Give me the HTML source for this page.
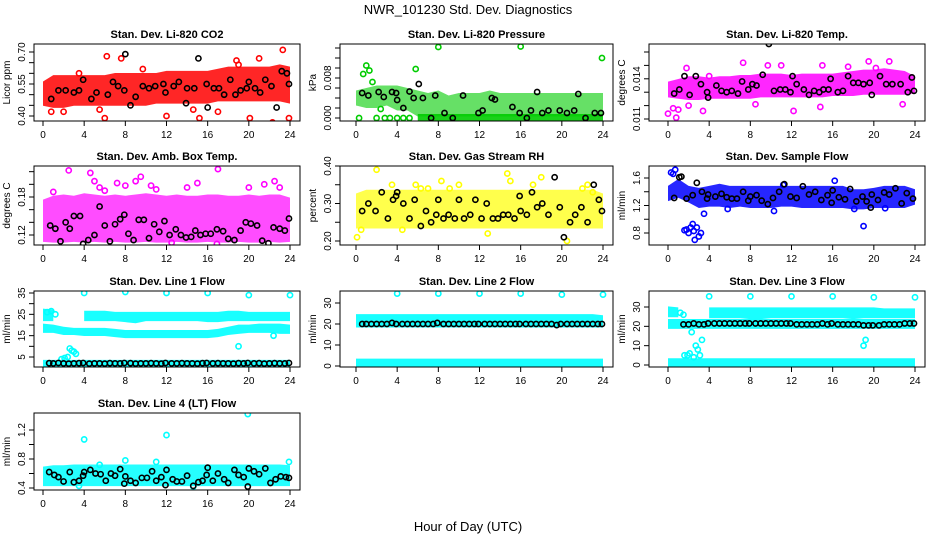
<!DOCTYPE html>
<html><head><meta charset="utf-8"><style>
html,body{margin:0;padding:0;background:#fff;}
svg{display:block;font-family:"Liberation Sans",sans-serif;}
</style></head><body>
<svg id="chart" width="936" height="540" viewBox="0 0 936 540" xmlns="http://www.w3.org/2000/svg">
<rect x="0" y="0" width="936" height="540" fill="#fff"/>
<text x="468" y="14" text-anchor="middle" font-size="13">NWR_101230  Std. Dev. Diagnostics</text>
<text x="468" y="531" text-anchor="middle" font-size="13">Hour of Day (UTC)</text>
</svg>
<script>
// ---------- data ----------
const bandHours = [0,1,2,3,4,5,6,7,8,9,10,11,12,13,14,15,16,17,18,19,20,21,22,23,24];
const xTicks = [0,4,8,12,16,20,24];

// CO2
const co2Lo = [0.46,0.45,0.45,0.46,0.46,0.46,0.46,0.46,0.46,0.46,0.46,0.47,0.47,0.47,0.47,0.47,0.47,0.48,0.48,0.48,0.48,0.48,0.48,0.48,0.47];
const co2Hi = [0.55,0.58,0.58,0.58,0.58,0.58,0.58,0.59,0.59,0.59,0.59,0.59,0.60,0.60,0.60,0.60,0.60,0.61,0.62,0.62,0.62,0.62,0.62,0.63,0.62];
const co2OutX = [6.2,7.6,2.0,3.5,15.2,16.0,18.8,19.0,20.1,21.0,22.3,23.3,23.9,0.8,6.0,12.0,17.0,9.7,5.5,14.6];
const co2OutY = [0.68,0.67,0.42,0.60,0.39,0.36,0.66,0.64,0.39,0.67,0.37,0.71,0.39,0.42,0.39,0.40,0.42,0.62,0.43,0.43];
const co2BlkX = [0.8,1.5,2.2,3.0,3.5,3.9,4.7,5.2,6.3,6.8,7.3,7.9,8.0,8.5,9.0,9.7,10.3,10.9,11.7,11.9,12.7,13.2,13.9,14.0,14.7,15.1,15.9,16.0,16.6,17.1,17.6,18.2,18.7,19.2,19.8,20.0,20.6,21.1,21.6,22.2,22.7,23.2,23.7,23.9];
const co2BlkY = [0.48,0.52,0.52,0.51,0.52,0.57,0.48,0.51,0.50,0.56,0.54,0.52,0.69,0.45,0.49,0.54,0.53,0.54,0.55,0.51,0.54,0.56,0.46,0.53,0.53,0.67,0.55,0.44,0.53,0.53,0.50,0.57,0.50,0.52,0.53,0.56,0.53,0.51,0.57,0.54,0.44,0.61,0.60,0.55];
const co2Ticks = [0.40,0.45,0.50,0.55,0.60,0.65,0.70];
const co2Labels = ["0.40","0.55","0.70"];
const co2LabelVals = [0.40,0.55,0.70];

// Pressure
const prsLo = [0.003,0.0025,0.0025,0.003,0.002,0.002,0.0008,0.0008,0.0008,0.0008,0.0008,0.0008,0.0008,0.0008,0.0008,0.0008,0.0008,0.0008,0.0008,0.0008,0.0008,0.0008,0.0008,0.0008,0.0008];
const prsHi = [0.005,0.0055,0.006,0.006,0.006,0.0055,0.005,0.0045,0.005,0.004,0.0045,0.0045,0.0045,0.005,0.0045,0.0045,0.0045,0.0045,0.0045,0.0045,0.0045,0.0045,0.0045,0.0045,0.0045];
const prsBaseLo = [null,null,null,null,null,null,-0.0003,-0.0003,-0.0003,-0.0003,-0.0003,-0.0003,-0.0003,-0.0003,-0.0003,-0.0003,-0.0003,-0.0003,-0.0003,-0.0003,-0.0003,-0.0003,-0.0003,-0.0003,-0.0003];
const prsBaseHi = [null,null,null,null,null,null,0.0003,0.0003,0.0003,0.0003,0.0003,0.0003,0.0003,0.0003,0.0003,0.0003,0.0003,0.0003,0.0003,0.0003,0.0003,0.0003,0.0003,0.0003,0.0003];
const prsOutX = [0.7,1.0,1.3,5.8,8.0,16.0,23.9,0.3,2.0,2.8,3.3,4.0,4.6,5.2,1.6,2.4];
const prsOutY = [0.0088,0.0105,0.0095,0.0098,0.0142,0.0143,0.0120,0.0,0.0,0.0,0.0,0.0,0.0,0.0,0.0072,0.0018];
const prsBlkX = [0.6,1.2,2.2,2.7,3.5,3.9,4.0,4.6,5.2,5.6,6.1,6.5,7.3,7.7,8.6,9.4,10.4,11.9,12.3,13.2,13.5,15.2,15.9,16.6,17.0,17.6,18.1,18.7,19.8,20.5,21.2,21.6,22.3,23.2,23.8];
const prsBlkY = [0.0050,0.0045,0.0052,0.0042,0.0052,0.0050,0.0036,0.0020,0.0053,0.0040,0.0068,0.0040,0.0000,0.0045,0.0010,0.0000,0.0045,0.0010,0.0015,0.0040,0.0037,0.0022,0.0010,0.0000,0.0015,0.0052,0.0010,0.0015,0.0015,0.0010,0.0015,0.0048,0.0000,0.0010,0.0010];
const prsTicks = [0,0.002,0.004,0.006,0.008,0.010,0.012,0.014];
const prsLabels = ["0.000","0.008"];
const prsLabelVals = [0,0.008];

// Li-820 Temp
const tmpLo = [0.0128,0.0127,0.0126,0.0126,0.0127,0.0127,0.0127,0.0127,0.0127,0.0128,0.0128,0.0128,0.0128,0.0128,0.0128,0.0128,0.0129,0.0129,0.0129,0.0130,0.0130,0.0130,0.0130,0.0130,0.0131];
const tmpHi = [0.0136,0.0138,0.0140,0.0140,0.0139,0.0140,0.0140,0.0141,0.0141,0.0142,0.0142,0.0142,0.0141,0.0142,0.0142,0.0142,0.0142,0.0143,0.0144,0.0145,0.0145,0.0146,0.0145,0.0144,0.0140];
const tmpOutX = [0.0,0.5,0.8,1.0,2.0,3.4,7.3,8.5,9.7,11.0,12.2,14.8,17.5,19.5,21.5,22.8,1.8,4.0,15.0,20.2];
const tmpOutY = [0.0114,0.0118,0.0111,0.0117,0.0120,0.0116,0.0152,0.0121,0.0150,0.0150,0.0116,0.0119,0.0149,0.0153,0.0153,0.0121,0.0148,0.0142,0.0150,0.0148];
const tmpBlkX = [0.6,1.1,1.6,2.1,2.7,3.2,3.8,3.9,4.7,5.2,5.7,6.2,6.8,7.2,7.8,8.2,8.6,9.2,9.8,10.3,10.9,11.4,11.9,12.1,12.5,13.2,13.7,14.2,14.7,15.1,15.6,15.8,16.5,17.0,17.5,18.0,18.5,19.0,19.6,19.8,20.6,21.2,21.8,22.6,23.3,23.7,23.9];
const tmpBlkY = [0.0129,0.0132,0.0142,0.0128,0.0142,0.0136,0.0130,0.0126,0.0135,0.0131,0.0130,0.0131,0.0129,0.0138,0.0132,0.0136,0.0135,0.0143,0.0166,0.0131,0.0132,0.0132,0.0130,0.0142,0.0136,0.0132,0.0128,0.0131,0.0130,0.0132,0.0132,0.0140,0.0130,0.0131,0.0142,0.0137,0.0137,0.0136,0.0137,0.0128,0.0142,0.0136,0.0136,0.0136,0.0130,0.0141,0.0131];
const tmpTicks = [0.011,0.012,0.013,0.014,0.015,0.016];
const tmpLabels = ["0.011","0.014"];
const tmpLabelVals = [0.011,0.014];

// Amb box temp
const boxLo = [0.113,0.112,0.112,0.113,0.112,0.113,0.112,0.113,0.112,0.112,0.113,0.112,0.112,0.113,0.112,0.112,0.113,0.112,0.112,0.113,0.112,0.112,0.113,0.112,0.113];
const boxHi = [0.172,0.178,0.180,0.178,0.182,0.180,0.178,0.180,0.178,0.180,0.182,0.180,0.178,0.180,0.178,0.178,0.180,0.180,0.178,0.178,0.180,0.178,0.180,0.180,0.175];
const boxOutX = [2.5,4.6,5.0,5.5,6.0,7.2,8.0,9.0,9.5,10.5,11.0,14.0,15.0,17.0,20.0,21.5,22.5,23.0,1.0,12.5,16.9];
const boxOutY = [0.222,0.218,0.205,0.195,0.190,0.202,0.198,0.205,0.212,0.198,0.192,0.195,0.202,0.224,0.195,0.200,0.205,0.195,0.188,0.108,0.106];
const boxBlkX = [0.7,1.2,1.7,2.2,2.6,3.0,3.6,3.9,4.4,5.0,5.5,6.0,6.5,7.0,7.5,7.9,8.3,8.8,9.3,9.8,10.3,10.8,11.3,11.8,12.3,12.9,13.4,13.9,14.4,14.8,15.3,15.8,16.3,16.9,17.5,18.0,18.6,19.2,19.7,20.2,20.8,21.3,21.9,22.4,23.0,23.5,23.9];
const boxBlkY = [0.135,0.130,0.110,0.140,0.130,0.150,0.150,0.106,0.112,0.120,0.165,0.135,0.110,0.137,0.145,0.152,0.122,0.112,0.144,0.144,0.115,0.137,0.125,0.142,0.120,0.129,0.120,0.116,0.117,0.127,0.120,0.122,0.122,0.129,0.126,0.114,0.112,0.127,0.140,0.138,0.135,0.111,0.107,0.132,0.130,0.127,0.146];
const boxTicks = [0.12,0.14,0.16,0.18,0.20,0.22];
const boxLabels = ["0.12","0.18"];
const boxLabelVals = [0.12,0.18];

// Gas stream RH
const rhLo = [0.24,0.24,0.24,0.24,0.24,0.24,0.24,0.24,0.24,0.24,0.24,0.24,0.24,0.24,0.24,0.24,0.24,0.24,0.24,0.24,0.24,0.24,0.24,0.24,0.24];
const rhHi = [0.32,0.33,0.33,0.33,0.33,0.33,0.33,0.33,0.33,0.33,0.33,0.33,0.33,0.33,0.33,0.33,0.33,0.33,0.33,0.33,0.33,0.33,0.33,0.33,0.32];
const rhOutX = [0.1,0.5,2.0,3.5,4.5,5.8,6.3,8.3,9.1,10.0,12.8,14.7,15.0,17.2,18.0,20.5,22.0,22.5,23.0,7.0];
const rhOutY = [0.21,0.23,0.39,0.35,0.23,0.35,0.34,0.36,0.34,0.35,0.22,0.38,0.36,0.35,0.37,0.20,0.34,0.35,0.33,0.34];
const rhBlkX = [0.6,1.2,1.9,2.5,3.1,3.6,3.9,4.0,4.6,5.2,5.7,6.3,6.8,7.3,7.8,8.0,8.5,9.0,9.6,10.0,10.5,11.1,11.6,12.2,12.7,13.3,13.8,14.3,14.8,15.4,15.9,16.0,16.6,17.1,17.6,18.1,18.7,19.3,19.8,20.2,20.8,21.3,21.9,22.5,23.1,23.6,23.9];
const rhBlkY = [0.28,0.30,0.28,0.33,0.26,0.31,0.32,0.33,0.30,0.26,0.31,0.24,0.28,0.25,0.27,0.31,0.26,0.27,0.26,0.31,0.26,0.27,0.31,0.26,0.30,0.26,0.26,0.27,0.27,0.26,0.32,0.28,0.27,0.33,0.29,0.30,0.27,0.37,0.29,0.21,0.25,0.27,0.29,0.25,0.35,0.31,0.28];
const rhTicks = [0.20,0.25,0.30,0.35,0.40];
const rhLabels = ["0.20","0.30","0.40"];
const rhLabelVals = [0.20,0.30,0.40];

// Sample flow
const sfLo = [1.30,1.35,1.28,1.20,1.22,1.22,1.20,1.22,1.20,1.20,1.20,1.22,1.22,1.20,1.20,1.20,1.20,1.20,1.18,1.18,1.20,1.20,1.20,1.20,1.25];
const sfHi = [1.45,1.55,1.45,1.42,1.45,1.48,1.45,1.45,1.45,1.45,1.45,1.45,1.45,1.45,1.45,1.45,1.45,1.45,1.40,1.40,1.42,1.45,1.45,1.45,1.40];
const sfOutX = [0.3,0.5,0.7,1.6,1.8,2.0,2.2,2.4,2.5,2.6,2.8,3.0,3.2,3.5,5.8,10.3,11.2,16.2,18.1,19.0,21.1];
const sfOutY = [1.68,1.66,1.72,0.84,0.85,0.80,0.88,0.93,0.83,0.70,0.88,0.75,0.80,1.08,1.15,1.12,1.50,1.56,1.15,0.90,1.16];
const sfBlkX = [0.6,1.1,1.3,1.8,2.4,2.8,3.3,3.8,3.9,4.6,5.2,5.7,6.2,6.7,7.3,7.8,8.0,8.6,9.1,9.7,10.2,10.8,11.3,11.9,12.5,13.1,13.7,14.3,14.9,15.5,15.9,16.0,16.6,17.2,17.7,18.3,18.9,19.3,19.7,19.8,20.4,21.0,21.5,22.1,22.7,23.2,23.8];
const sfBlkY = [1.31,1.61,1.62,1.30,1.35,1.53,1.40,1.30,1.36,1.33,1.37,1.32,1.30,1.30,1.40,1.27,1.33,1.35,1.27,1.22,1.31,1.40,1.51,1.33,1.31,1.48,1.36,1.40,1.28,1.35,1.24,1.42,1.32,1.29,1.44,1.26,1.33,1.26,1.17,1.36,1.28,1.39,1.36,1.45,1.23,1.38,1.30];
const sfTicks = [0.8,1.0,1.2,1.4,1.6];
const sfLabels = ["0.8","1.2","1.6"];
const sfLabelVals = [0.8,1.2,1.6];

// Line 1 flow
const l1UpLo = [23,23,null,null,23,23,23,23,22.5,22,23,23,23,23,23,23,22.5,22.5,23,23,23,23,23,23,23];
const l1UpHi = [26.5,26,null,null,25.5,25.5,25.5,25,25,25,25,25,25,25,25,25,25,25,25.5,25.5,25,25,25,25,25];
const l1MidLo = [17.5,17.5,16.5,16.5,16,16,16,15.5,15,15,15,15,15,15,15,15,15,15.5,16.5,17,17.5,17.5,17.5,17,17];
const l1MidHi = [19.5,19,18,17.5,17.5,17.5,17.5,17,16.5,16.5,16.5,16.5,16.5,16.5,16.5,16.5,16.5,17,18,19,19,19.5,19.5,19.5,19];
const l1BaseLo = [0.8,0.8,0.8,0.8,0.8,0.8,0.8,0.8,0.8,0.8,0.8,0.8,0.8,0.8,0.8,0.8,0.8,0.8,0.8,0.8,0.8,0.8,0.8,0.8,0.8];
const l1BaseHi = [2.5,2.5,2.5,2.5,2.5,2.5,2.5,2.5,2.5,2.5,2.5,2.5,2.5,2.5,2.5,2.5,2.5,2.5,2.5,2.5,2.5,2.5,2.5,2.5,2.5];
const l1OutX = [4.0,8.0,12.0,16.0,20.0,24.0,1.8,2.1,2.4,2.6,2.8,3.0,3.2,19.0,22.4,0.4,0.8,1.2];
const l1OutY = [35,35.5,35,35,34,34,4,4.5,5,9,8,7.5,6.5,10,15,26,26.5,25];
const l1BlkX = [0.6,1.0,1.5,2.0,2.5,3.0,3.5,3.9,4.5,5.0,5.5,6.0,6.5,7.0,7.5,7.9,8.5,9.0,9.5,10.0,10.5,11.0,11.5,11.9,12.5,13.0,13.5,14.0,14.5,15.0,15.5,15.9,16.5,17.0,17.5,18.0,18.5,19.0,19.5,19.9,20.5,21.0,21.5,22.0,22.5,23.0,23.5,23.9];
const l1BlkY = [2.1,2.0,2.2,2.0,1.9,2.0,2.1,2.2,1.9,2.0,2.0,1.9,2.1,2.0,2.0,2.2,2.1,1.9,2.0,2.0,2.1,2.0,1.9,2.2,2.0,2.0,2.1,2.0,2.0,1.9,2.1,2.2,2.0,2.1,2.0,2.0,1.9,2.1,2.0,2.2,2.0,2.1,1.9,2.0,2.1,2.0,2.0,2.2];
const l1Ticks = [5,10,15,20,25,30,35];
const l1Labels = ["5","15","25","35"];
const l1LabelVals = [5,15,25,35];

// Line 2 flow
const l2UpLo = [19.5,19.5,19.5,19.5,19.5,19.5,19.5,19.5,19.5,19.5,19.5,19.5,19.5,19.5,19.5,19.5,19.5,19.5,19.5,19.5,19.5,19.5,19.5,19.5,19.5];
const l2UpHi = [23.5,23.5,23.5,23.5,23.5,23.5,23.5,23.5,23.5,23.5,23.5,23.5,23.5,23.5,23.5,23.5,23.5,23.5,23.5,23.5,23.5,23.5,23.5,23.5,23];
const l2BaseLo = [0.3,0.3,0.3,0.3,0.3,0.3,0.3,0.3,0.3,0.3,0.3,0.3,0.3,0.3,0.3,0.3,0.3,0.3,0.3,0.3,0.3,0.3,0.3,0.3,0.3];
const l2BaseHi = [2.3,2.3,2.3,2.3,2.3,2.3,2.3,2.3,2.3,2.3,2.3,2.3,2.3,2.3,2.3,2.3,2.3,2.3,2.3,2.3,2.3,2.3,2.3,2.3,2.3];
const l2OutX = [4,8,12,16,20,24];
const l2OutY = [34.5,34.5,34.5,34.5,34,34];
const l2BlkX = [0.6,1.0,1.5,2.0,2.5,3.0,3.5,3.9,4.5,5.0,5.5,6.0,6.5,7.0,7.5,7.9,8.5,9.0,9.5,10.0,10.5,11.0,11.5,11.9,12.5,13.0,13.5,14.0,14.5,15.0,15.5,15.9,16.5,17.0,17.5,18.0,18.5,19.0,19.5,19.9,20.5,21.0,21.5,22.0,22.5,23.0,23.5,23.9];
const l2BlkY = [20,20,20,20,20,20,20.5,20,20,20,20,20,20,20,20,20.5,20,20,20,20,20,20,20,20,20,20,20,20,20,20,20,20,20,20,20,20,20,20,19.5,20,20,20,20,20,20,20,20,20];
const l2Ticks = [0,10,20,30];
const l2Labels = ["0","10","20","30"];
const l2LabelVals = [0,10,20,30];

// Line 3 flow
const l3UpLo = [26,26,null,null,25.5,25.5,25.5,25.5,25,25,25.5,25.5,25.5,25.5,25.5,25.5,25.5,25.5,25,25.5,25.5,25.5,25.5,25.5,25.5];
const l3UpHi = [29,28.5,null,null,28.5,28.5,28.5,28.5,28.5,28.5,28.5,28.5,28.5,28.5,28.5,28.5,28.5,28.5,28.5,28.5,28.5,28,28,28,28];
const l3MidLo = [20,20,20,20,20,20,20,20,20,20,20,20,20,20,20,20,20,20,20,20,20,20,20,20,20];
const l3MidHi = [22.5,22.5,22.5,22.5,22.5,22.5,22.5,22.5,22.5,22.5,22.5,22.5,22.5,22.5,22.5,22.5,22.5,22.5,22.5,22.5,22.5,22.5,22.5,22.5,22.5];
const l3BaseLo = [0.3,0.3,0.3,0.3,0.3,0.3,0.3,0.3,0.3,0.3,0.3,0.3,0.3,0.3,0.3,0.3,0.3,0.3,0.3,0.3,0.3,0.3,0.3,0.3,0.3];
const l3BaseHi = [2.2,2.2,2.2,2.2,2.2,2.2,2.2,2.2,2.2,2.2,2.2,2.2,2.2,2.2,2.2,2.2,2.2,2.2,2.2,2.2,2.2,2.2,2.2,2.2,2.2];
const l3OutX = [4,8,12,16,20,24,1.6,1.9,2.1,2.3,2.5,2.7,2.9,3.1,3.3,19.0,19.2,1.5,1.2];
const l3OutY = [35.5,35.5,35.5,35.5,35,35,5,5,6,17,4,10,8,5,13,10,13,26,27];
const l3BlkX = [1.5,2.0,2.5,3.0,3.5,3.9,4.5,5.0,5.5,6.0,6.5,7.0,7.5,7.9,8.5,9.0,9.5,10.0,10.5,11.0,11.5,11.9,12.5,13.0,13.5,14.0,14.5,15.0,15.5,15.9,16.5,17.0,17.5,18.0,18.5,19.0,19.5,19.9,20.5,21.0,21.5,22.0,22.5,23.0,23.5,23.9];
const l3BlkY = [21,21,21.5,21,21,21.5,21.5,21.5,21.5,21.5,21.5,21.5,21.5,21.5,21.5,21.5,21.5,21.5,21.5,21.5,21.5,21.5,21,21,21,21,21,21.5,21,21.5,21,21,21,21,21,20.5,20.5,20.5,20.5,21,21,21,21,21.5,21.5,21.5];
const l3Ticks = [0,10,20,30];
const l3Labels = ["0","10","20","30"];
const l3LabelVals = [0,10,20,30];

// Line 4 flow
const l4Lo = [0.46,0.46,0.46,0.46,0.46,0.46,0.46,0.46,0.46,0.46,0.46,0.46,0.46,0.46,0.46,0.46,0.46,0.46,0.46,0.46,0.46,0.46,0.46,0.46,0.46];
const l4Hi = [0.66,0.68,0.68,0.69,0.69,0.69,0.69,0.69,0.69,0.69,0.69,0.69,0.69,0.69,0.69,0.69,0.69,0.69,0.69,0.69,0.69,0.69,0.69,0.69,0.68];
const l4OutX = [4.0,12.0,19.9,8.0,11.0,23.9,14.6,3.5,5.5];
const l4OutY = [1.07,1.13,1.42,0.78,0.76,0.76,0.42,0.43,0.72];
const l4BlkX = [0.6,1.1,1.5,2.0,2.6,3.0,3.5,3.9,4.0,4.6,5.1,5.6,6.1,6.6,7.0,7.5,7.9,8.0,8.5,9.0,9.6,10.1,10.6,11.0,11.5,11.9,12.0,12.6,13.0,13.5,14.0,14.6,15.1,15.5,15.9,16.0,16.5,17.0,17.6,18.0,18.6,19.0,19.5,19.9,20.0,20.5,21.0,21.6,22.1,22.6,23.1,23.6,23.9];
const l4BlkY = [0.62,0.58,0.55,0.49,0.62,0.48,0.50,0.57,0.62,0.65,0.60,0.59,0.50,0.60,0.57,0.66,0.46,0.56,0.50,0.47,0.54,0.54,0.63,0.50,0.55,0.44,0.65,0.52,0.49,0.49,0.57,0.43,0.48,0.50,0.58,0.68,0.50,0.60,0.52,0.47,0.65,0.58,0.55,0.42,0.67,0.63,0.59,0.67,0.47,0.52,0.56,0.55,0.54];
const l4Ticks = [0.4,0.6,0.8,1.0,1.2];
const l4Labels = ["0.4","0.8","1.2"];
const l4LabelVals = [0.4,0.8,1.2];

// ---------- layout (pixels, not data) ----------
const colFrames = [[34,300,43,290],[340,613,356,603],[649,925,668,915]];
const rowFrames = [[44,121],[166,245],[291,367],[413,490]];

const panels = [
 {id:"co2",title:"Stan. Dev. Li-820 CO2",ylab:"Licor ppm",col:0,row:0,color:"#ff0000",cal:[0.40,116,0.70,52],
  bands:[[co2Lo,co2Hi,0.85]],outX:co2OutX,outY:co2OutY,blkX:co2BlkX,blkY:co2BlkY,ticks:co2Ticks,labels:co2Labels,labelVals:co2LabelVals},
 {id:"pressure",title:"Stan. Dev. Li-820 Pressure",ylab:"kPa",col:1,row:0,color:"#00cc00",cal:[0,118,0.014,48],
  bands:[[prsLo,prsHi,0.6],[prsBaseLo,prsBaseHi,0.9]],outX:prsOutX,outY:prsOutY,blkX:prsBlkX,blkY:prsBlkY,ticks:prsTicks,labels:prsLabels,labelVals:prsLabelVals},
 {id:"li820-temp",title:"Stan. Dev. Li-820 Temp.",ylab:"degrees C",col:2,row:0,color:"#ff00ff",cal:[0.011,119,0.016,52],
  bands:[[tmpLo,tmpHi,0.85]],outX:tmpOutX,outY:tmpOutY,blkX:tmpBlkX,blkY:tmpBlkY,ticks:tmpTicks,labels:tmpLabels,labelVals:tmpLabelVals},
 {id:"box-temp",title:"Stan. Dev. Amb. Box Temp.",ylab:"degrees C",col:0,row:1,color:"#ff00ff",cal:[0.12,235,0.18,197],
  bands:[[boxLo,boxHi,0.7]],outX:boxOutX,outY:boxOutY,blkX:boxBlkX,blkY:boxBlkY,ticks:boxTicks,labels:boxLabels,labelVals:boxLabelVals},
 {id:"rh",title:"Stan. Dev. Gas Stream RH",ylab:"percent",col:1,row:1,color:"#ffff00",cal:[0.20,241,0.40,166],
  bands:[[rhLo,rhHi,0.7]],outX:rhOutX,outY:rhOutY,blkX:rhBlkX,blkY:rhBlkY,ticks:rhTicks,labels:rhLabels,labelVals:rhLabelVals},
 {id:"sample-flow",title:"Stan. Dev. Sample Flow",ylab:"ml/min",col:2,row:1,color:"#0000ff",cal:[0.8,233,1.6,178],
  bands:[[sfLo,sfHi,0.85]],outX:sfOutX,outY:sfOutY,blkX:sfBlkX,blkY:sfBlkY,ticks:sfTicks,labels:sfLabels,labelVals:sfLabelVals},
 {id:"line1-flow",title:"Stan. Dev. Line 1 Flow",ylab:"ml/min",col:0,row:2,color:"#00ffff",cal:[5,357,35,293],
  bands:[[l1UpLo,l1UpHi,0.9],[l1MidLo,l1MidHi,0.9],[l1BaseLo,l1BaseHi,0.9]],outX:l1OutX,outY:l1OutY,blkX:l1BlkX,blkY:l1BlkY,ticks:l1Ticks,labels:l1Labels,labelVals:l1LabelVals},
 {id:"line2-flow",title:"Stan. Dev. Line 2 Flow",ylab:"ml/min",col:1,row:2,color:"#00ffff",cal:[0,366,30,303],
  bands:[[l2UpLo,l2UpHi,0.9],[l2BaseLo,l2BaseHi,0.9]],outX:l2OutX,outY:l2OutY,blkX:l2BlkX,blkY:l2BlkY,ticks:l2Ticks,labels:l2Labels,labelVals:l2LabelVals},
 {id:"line3-flow",title:"Stan. Dev. Line 3 Flow",ylab:"ml/min",col:2,row:2,color:"#00ffff",cal:[0,365,30,307],
  bands:[[l3UpLo,l3UpHi,0.9],[l3MidLo,l3MidHi,0.9],[l3BaseLo,l3BaseHi,0.9]],outX:l3OutX,outY:l3OutY,blkX:l3BlkX,blkY:l3BlkY,ticks:l3Ticks,labels:l3Labels,labelVals:l3LabelVals},
 {id:"line4-flow",title:"Stan. Dev. Line 4 (LT) Flow",ylab:"ml/min",col:0,row:3,color:"#00ffff",cal:[0.4,488,1.2,430],
  bands:[[l4Lo,l4Hi,0.85]],outX:l4OutX,outY:l4OutY,blkX:l4BlkX,blkY:l4BlkY,ticks:l4Ticks,labels:l4Labels,labelVals:l4LabelVals}
];

const NS = "http://www.w3.org/2000/svg";
const svg = document.getElementById("chart");
function el(tag, parent){ const e = document.createElementNS(NS, tag); parent.appendChild(e); return e; }

panels.forEach(function(p){
  const cf = colFrames[p.col], rf = rowFrames[p.row];
  const L = cf[0], R = cf[1], T = rf[0], B = rf[1];
  const xs = function(h){ return cf[2] + (cf[3]-cf[2]) * h / 24; };
  const ys = function(v){ return p.cal[1] + (v - p.cal[0]) * (p.cal[3]-p.cal[1]) / (p.cal[2]-p.cal[0]); };

  const g = el("g", svg);
  
  

  const cp = el("clipPath", g);
  cp.setAttribute("id", "clip-" + p.id);
  const cr = el("rect", cp);
  cr.setAttribute("x", L); cr.setAttribute("y", T); cr.setAttribute("width", R-L); cr.setAttribute("height", B-T);

  const title = el("text", g);
  
  
  title.setAttribute("x", (L+R)/2); title.setAttribute("y", T-6);
  title.setAttribute("text-anchor","middle"); title.setAttribute("font-size","11"); title.setAttribute("font-weight","bold");
  title.textContent = p.title;

  const data = el("g", g);
  
  
  data.setAttribute("clip-path", "url(#clip-" + p.id + ")");

  p.bands.forEach(function(b){
    const lo = b[0], hi = b[1];
    let seg = [];
    const flush = function(){
      if (seg.length > 1) {
        const pts = seg.map(function(i){ return xs(bandHours[i]) + "," + (ys(hi[i]) - 2.5); })
          .concat(seg.slice().reverse().map(function(i){ return xs(bandHours[i]) + "," + (ys(lo[i]) + 2.5); }));
        const poly = el("polygon", data);
        
        
        poly.setAttribute("points", pts.join(" "));
        poly.setAttribute("fill", p.color);
        poly.setAttribute("fill-opacity", b[2]);
      }
      seg = [];
    };
    for (let i = 0; i < bandHours.length; i++) {
      if (lo[i] === null || hi[i] === null) flush(); else seg.push(i);
    }
    flush();
  });

  const nO = Math.min(p.outX.length, p.outY.length);
  for (let i = 0; i < nO; i++) {
    const c = el("circle", data);
    
    
    c.setAttribute("cx", xs(p.outX[i])); c.setAttribute("cy", ys(p.outY[i])); c.setAttribute("r", 2.6);
    c.setAttribute("fill", "none"); c.setAttribute("stroke", p.color); c.setAttribute("stroke-width", 1.6);
  }
  const nB = Math.min(p.blkX.length, p.blkY.length);
  for (let i = 0; i < nB; i++) {
    const c = el("circle", data);
    
    
    c.setAttribute("cx", xs(p.blkX[i])); c.setAttribute("cy", ys(p.blkY[i])); c.setAttribute("r", 2.6);
    c.setAttribute("fill", "none"); c.setAttribute("stroke", "#000"); c.setAttribute("stroke-width", 1.6);
  }

  const fr = el("rect", g);
  
  
  fr.setAttribute("x", L); fr.setAttribute("y", T); fr.setAttribute("width", R-L); fr.setAttribute("height", B-T);
  fr.setAttribute("fill", "none"); fr.setAttribute("stroke", "#000"); fr.setAttribute("stroke-width", 1);

  const xa = el("g", g);
  
  
  const xl = el("line", xa);
  xl.setAttribute("x1", xs(0)); xl.setAttribute("x2", xs(24)); xl.setAttribute("y1", B); xl.setAttribute("y2", B);
  xl.setAttribute("stroke", "#000");
  xTicks.forEach(function(t){
    const tk = el("line", xa);
    tk.setAttribute("x1", xs(t)); tk.setAttribute("x2", xs(t)); tk.setAttribute("y1", B); tk.setAttribute("y2", B+5);
    tk.setAttribute("stroke", "#000");
    const tx = el("text", xa);
    
    
    tx.setAttribute("x", xs(t)); tx.setAttribute("y", B+17); tx.setAttribute("text-anchor","middle"); tx.setAttribute("font-size","10");
    tx.textContent = String(t);
  });

  const ya = el("g", g);
  
  
  const yl = el("line", ya);
  yl.setAttribute("x1", L); yl.setAttribute("x2", L);
  yl.setAttribute("y1", ys(p.ticks[0])); yl.setAttribute("y2", ys(p.ticks[p.ticks.length-1]));
  yl.setAttribute("stroke", "#000");
  p.ticks.forEach(function(t){
    const tk = el("line", ya);
    tk.setAttribute("x1", L-5); tk.setAttribute("x2", L); tk.setAttribute("y1", ys(t)); tk.setAttribute("y2", ys(t));
    tk.setAttribute("stroke", "#000");
  });
  p.labels.forEach(function(lab, i){
    const yy = ys(p.labelVals[i]), xx = L - 9;
    const tx = el("text", ya);
    
    
    tx.setAttribute("x", xx); tx.setAttribute("y", yy); tx.setAttribute("text-anchor","middle"); tx.setAttribute("font-size","10");
    tx.setAttribute("transform", "rotate(-90 " + xx + " " + yy + ")");
    tx.textContent = lab;
  });
  const ytl = el("text", ya);
  
  
  const tyy = (T+B)/2, txx = L - 24;
  ytl.setAttribute("x", txx); ytl.setAttribute("y", tyy); ytl.setAttribute("text-anchor","middle"); ytl.setAttribute("font-size","10");
  ytl.setAttribute("transform", "rotate(-90 " + txx + " " + tyy + ")");
  ytl.textContent = p.ylab;
});
</script>
</body></html>
